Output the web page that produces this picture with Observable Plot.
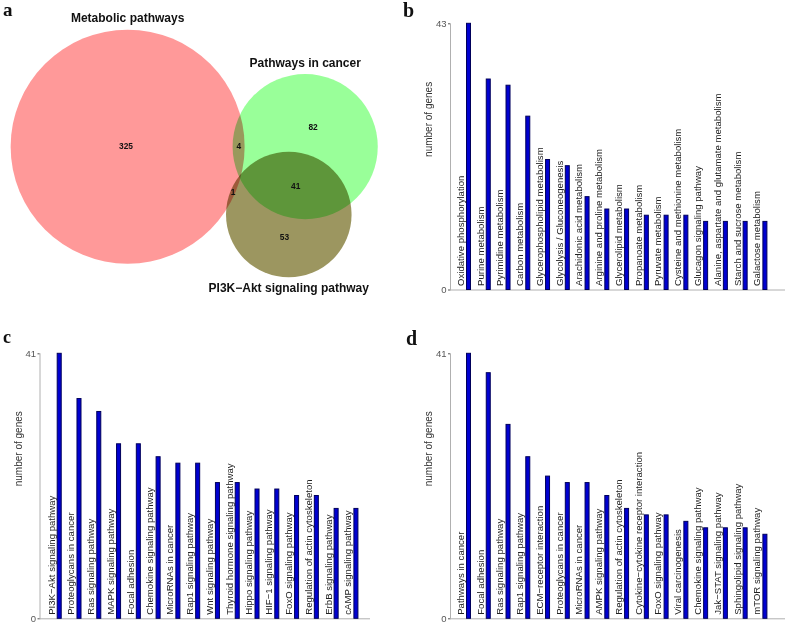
<!DOCTYPE html>
<html><head><meta charset="utf-8">
<script src="https://cdn.jsdelivr.net/npm/d3@7"></script>
<script src="https://cdn.jsdelivr.net/npm/@observablehq/plot@0.6"></script>
<style>
body{margin:0;background:#fff;}
#fig{position:relative;width:787px;height:623px;overflow:hidden;background:#fff;}
.panel{position:absolute;}
.panel svg{display:block;}
.letter{position:absolute;font-family:"Liberation Serif","Times New Roman",serif;font-weight:bold;font-size:20px;line-height:20px;color:#111;}
.venn circle{mix-blend-mode:multiply;}
</style></head><body><div id="fig"></div>
<script>
// ---------- DATA ----------
// Panel a: Venn diagram
const vennSetNames = ["Metabolic pathways", "Pathways in cancer", "PI3K\u2212Akt signaling pathway"];
const vennRegionKeys = ["100", "010", "001", "110", "101", "011"];
const vennRegionCounts = [325, 82, 53, 4, 1, 41];

// Panel b
const bCats = ["Oxidative phosphorylation", "Purine metabolism", "Pyrimidine metabolism", "Carbon metabolism",
  "Glycerophospholipid metabolism", "Glycolysis / Gluconeogenesis", "Arachidonic acid metabolism",
  "Arginine and proline metabolism", "Glycerolipid metabolism", "Propanoate metabolism", "Pyruvate metabolism",
  "Cysteine and methionine metabolism", "Glucagon signaling pathway", "Alanine, aspartate and glutamate metabolism",
  "Starch and sucrose metabolism", "Galactose metabolism"];
const bVals = [43, 34, 33, 28, 21, 20, 15, 13, 13, 12, 12, 12, 11, 11, 11, 11];

// Panel c
const cCats = ["PI3K\u2212Akt signaling pathway", "Proteoglycans in cancer", "Ras signaling pathway", "MAPK signaling pathway",
  "Focal adhesion", "Chemokine signaling pathway", "MicroRNAs in cancer", "Rap1 signaling pathway",
  "Wnt signaling pathway", "Thyroid hormone signaling pathway", "Hippo signaling pathway", "HIF\u22121 signaling pathway",
  "FoxO signaling pathway", "Regulation of actin cytoskeleton", "ErbB signaling pathway", "cAMP signaling pathway"];
const cVals = [41, 34, 32, 27, 27, 25, 24, 24, 21, 21, 20, 20, 19, 19, 17, 17];

// Panel d
const dCats = ["Pathways in cancer", "Focal adhesion", "Ras signaling pathway", "Rap1 signaling pathway",
  "ECM\u2212receptor interaction", "Proteoglycans in cancer", "MicroRNAs in cancer", "AMPK signaling pathway",
  "Regulation of actin cytoskeleton", "Cytokine\u2212cytokine receptor interaction", "FoxO signaling pathway",
  "Viral carcinogenesis", "Chemokine signaling pathway", "Jak\u2212STAT signaling pathway",
  "Sphingolipid signaling pathway", "mTOR signaling pathway"];
const dVals = [41, 38, 30, 25, 22, 21, 21, 19, 17, 16, 16, 15, 14, 14, 14, 13];

const yLabel = "number of genes";
const panelLetters = ["a", "b", "c", "d"];

// ---------- LAYOUT / STYLE ----------
const FONT = '"Liberation Sans", Arial, Helvetica, sans-serif';
const VENN = {width: 400, height: 310, cx: 193.7, cy: 153, rMax: 117,
  colors: ["#FF9999", "#99FF99", "#9C9660"], gapTop: 7.5, gapBottom: 6.6};
const BAR = {fill: "#0000D0", stroke: "#00005A", axis: "#b0b0b0"};

const fig = document.getElementById("fig");
function place(node, left, top, cls) {
  const div = document.createElement("div");
  div.className = "panel" + (cls ? " " + cls : "");
  div.style.left = left + "px"; div.style.top = top + "px";
  div.appendChild(node); fig.appendChild(div);
}

// ---------- Panel a: Venn ----------
function lensArea(r1, r2, d) {
  if (d >= r1 + r2) return 0;
  if (d <= Math.abs(r1 - r2)) return Math.PI * Math.min(r1, r2) ** 2;
  const a1 = Math.acos((d * d + r1 * r1 - r2 * r2) / (2 * d * r1));
  const a2 = Math.acos((d * d + r2 * r2 - r1 * r1) / (2 * d * r2));
  return r1 * r1 * a1 + r2 * r2 * a2 - 0.5 * Math.sqrt((-d + r1 + r2) * (d + r1 - r2) * (d - r1 + r2) * (d + r1 + r2));
}
function solveDist(r1, r2, area) {
  let lo = Math.abs(r1 - r2), hi = r1 + r2;
  for (let i = 0; i < 80; i++) {
    const m = (lo + hi) / 2;
    if (lensArea(r1, r2, m) > area) lo = m; else hi = m;
  }
  return (lo + hi) / 2;
}
const totals = vennSetNames.map((_, s) => d3.sum(vennRegionKeys, (k, j) => k[s] === "1" ? vennRegionCounts[j] : 0));
const maxTotal = d3.max(totals);
const rScale = d3.scaleSqrt().domain([0, maxTotal]).range([0, VENN.rMax]);
const radii = totals.map(rScale);
const unitArea = Math.PI * VENN.rMax ** 2 / maxTotal;
const pairCount = (a, b) => d3.sum(vennRegionKeys, (k, j) => k[a] === "1" && k[b] === "1" ? vennRegionCounts[j] : 0);
const d01 = solveDist(radii[0], radii[1], pairCount(0, 1) * unitArea);
const d02 = solveDist(radii[0], radii[2], pairCount(0, 2) * unitArea);
const d12 = solveDist(radii[1], radii[2], pairCount(1, 2) * unitArea);
let px = [0, d01, (d02 * d02 - d12 * d12 + d01 * d01) / (2 * d01)];
let py = [0, 0, 0];
py[2] = Math.sqrt(Math.max(0, d02 * d02 - px[2] * px[2]));
{
  const x0 = d3.min(px, (x, i) => x - radii[i]), x1 = d3.max(px, (x, i) => x + radii[i]);
  const y0 = d3.min(py, (y, i) => y - radii[i]), y1 = d3.max(py, (y, i) => y + radii[i]);
  const sx = VENN.cx - (x0 + x1) / 2, sy = VENN.cy - (y0 + y1) / 2;
  px = px.map(x => x + sx); py = py.map(y => y + sy);
}
const circles = vennSetNames.map((name, i) => ({name, total: totals[i], x: px[i], y: py[i], r: radii[i], color: VENN.colors[i]}));
// region label positions = centroids of each region
const regionLabels = vennRegionKeys.map((key, j) => {
  let sx = 0, sy = 0, n = 0;
  const xmin = d3.min(circles, c => c.x - c.r), xmax = d3.max(circles, c => c.x + c.r);
  const ymin = d3.min(circles, c => c.y - c.r), ymax = d3.max(circles, c => c.y + c.r);
  for (let x = xmin; x <= xmax; x += 0.5) for (let y = ymin; y <= ymax; y += 0.5) {
    let ok = true;
    for (let s = 0; s < circles.length; s++) {
      const c = circles[s];
      const inside = (x - c.x) ** 2 + (y - c.y) ** 2 < c.r * c.r;
      if (inside !== (key[s] === "1")) { ok = false; break; }
    }
    if (ok) { sx += x; sy += y; n++; }
  }
  return {count: vennRegionCounts[j], x: n ? sx / n : NaN, y: n ? sy / n : NaN};
});
const meanY = d3.mean(circles, c => c.y);
const topTitles = circles.filter(c => c.y <= meanY).map(c => ({name: c.name, x: c.x, y: c.y - c.r - VENN.gapTop}));
const bottomTitles = circles.filter(c => c.y > meanY).map(c => ({name: c.name, x: c.x, y: c.y + c.r + VENN.gapBottom}));

const venn = Plot.plot({
  width: VENN.width, height: VENN.height, margin: 0,
  style: {fontFamily: FONT, background: "white"},
  x: {domain: [0, VENN.width], range: [0, VENN.width], axis: null},
  y: {domain: [0, VENN.height], range: [0, VENN.height], axis: null},
  r: {type: "sqrt", domain: [0, maxTotal], range: [0, VENN.rMax]},
  color: {type: "identity"},
  marks: [
    Plot.dot(circles, {x: "x", y: "y", r: "total", fill: "color", stroke: null, fillOpacity: 1, mixBlendMode: "multiply"}),
    Plot.text(regionLabels, {x: "x", y: "y", text: d => String(d.count), fontWeight: "bold", fontSize: 8.4, fill: "#111"}),
    Plot.text(topTitles, {x: "x", y: "y", text: "name", fontWeight: "bold", fontSize: 12, lineAnchor: "bottom", fill: "#111"}),
    Plot.text(bottomTitles, {x: "x", y: "y", text: "name", fontWeight: "bold", fontSize: 12, lineAnchor: "top", fill: "#111"})
  ]
});
place(venn, 0, 0, "venn");

// ---------- Bar panels ----------
function barPanel(cats, vals, o) {
  const data = cats.map((name, i) => ({name, value: vals[i]}));
  const max = d3.max(vals);
  return Plot.plot({
    width: o.width, height: o.height,
    marginLeft: o.ml, marginRight: o.mr, marginTop: o.mt, marginBottom: o.mb,
    style: {fontFamily: FONT, background: "transparent"},
    x: {type: "band", domain: cats, range: [o.r0, o.r0 + cats.length * o.step], padding: 0, round: false, axis: null},
    y: {domain: [0, max]},
    marks: [
      Plot.ruleY([0], {stroke: BAR.axis, strokeWidth: 1}),
      Plot.frame({anchor: "left", stroke: BAR.axis}),
      Plot.axisY({ticks: [0, max], tickSize: 2, tickPadding: 2, fontSize: 9.5, color: "#555", label: null}),
      Plot.barY(data, {x: "name", y: "value", fill: BAR.fill, stroke: BAR.stroke, strokeWidth: 1, insetLeft: 14, insetRight: 1.76}),
      Plot.text(data, {x: "name", y: () => 0, text: "name", rotate: -90, textAnchor: "start", lineAnchor: "bottom", dx: 1, dy: -4, fontSize: 9.6, fill: "#222"}),
      Plot.text([yLabel], {frameAnchor: "left", rotate: -90, dx: o.labelDx, fontSize: 10, fill: "#333"})
    ]
  });
}
place(barPanel(bCats, bVals, {width: 387, height: 310, ml: 50, mr: 2, mt: 23.3, mb: 20.5, r0: 52.5, step: 19.76, labelDx: -22}), 400, 0);
place(barPanel(cCats, cVals, {width: 400, height: 313, ml: 39.5, mr: 30, mt: 43.3, mb: 4.7, r0: 43.2, step: 19.78, labelDx: -21.5}), 0, 310);
place(barPanel(dCats, dVals, {width: 387, height: 313, ml: 50, mr: 2, mt: 43.3, mb: 4.7, r0: 52.5, step: 19.76, labelDx: -22}), 400, 310);

// ---------- Panel letters ----------
const letterPos = [[3, 0, 19], [403, 0, 20], [3, 327.5, 18], [406, 328.3, 20]];
panelLetters.forEach((t, i) => {
  const el = document.createElement("div");
  el.className = "letter";
  el.textContent = t;
  el.style.left = letterPos[i][0] + "px";
  el.style.top = letterPos[i][1] + "px";
  el.style.fontSize = letterPos[i][2] + "px";
  el.style.lineHeight = letterPos[i][2] + "px";
  fig.appendChild(el);
});
</script></body></html>
